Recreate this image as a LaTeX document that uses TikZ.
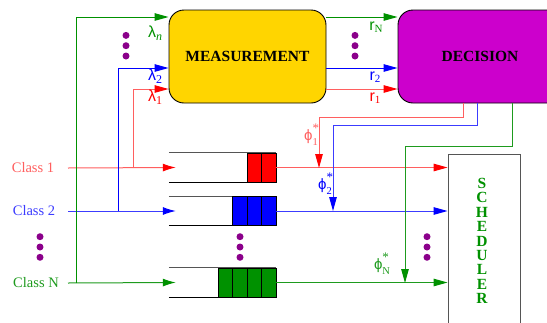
\documentclass[tikz,border=0pt]{standalone}
\usepackage{fontspec}
\setmainfont{Liberation Serif}
\newfontfamily\symfont{Liberation Sans}
\usetikzlibrary{arrows.meta}
\definecolor{cred}{RGB}{255,0,0}
\definecolor{lred}{RGB}{255,95,95}
\definecolor{cblue}{RGB}{0,0,255}
\definecolor{lblue}{RGB}{60,60,255}
\definecolor{cgreen}{RGB}{0,145,0}
\definecolor{lgreen}{RGB}{30,155,30}
\definecolor{cgold}{RGB}{255,213,0}
\definecolor{cmag}{RGB}{204,0,204}
\definecolor{cdot}{RGB}{139,0,139}
\definecolor{edgegray}{RGB}{85,85,85}
\tikzset{
  big/.style={line width=1pt},
  lbl/.style={inner sep=0pt, font=\fontsize{14.5}{16}\selectfont},
  boxtxt/.style={font=\bfseries\fontsize{15.5}{16}\selectfont},
  cell/.style={draw=black, line width=0.9pt, minimum width=14.5pt, minimum height=29pt, inner sep=0pt},
  tipR/.style={-{Triangle[length=14pt,width=7.5pt,color=cred]}},
  tipB/.style={-{Triangle[length=14pt,width=7.5pt,color=cblue]}},
  tipG/.style={-{Triangle[length=14pt,width=7.5pt,color=cgreen]}},
  qtipR/.style={-{Latex[length=13pt,width=8pt,color=cred]}},
  qtipB/.style={-{Latex[length=13pt,width=8pt,color=cblue]}},
  qtipG/.style={-{Latex[length=13pt,width=8pt,color=cgreen]}},
}
\newcommand\dotstack[2]{\fill[cdot] (#1,#2-10.3) circle (3.5) (#1,#2) circle (3.5) (#1,#2+10.3) circle (3.5);}
\newcommand\lam[1]{{\fontsize{16}{16}\selectfont\symfont λ}\raisebox{-2.5pt}{\fontsize{12}{12}\selectfont #1}}
\newcommand\rr[1]{{\fontsize{16}{16}\selectfont\symfont r}\raisebox{-2.5pt}{\fontsize{11}{11}\selectfont #1}}
\newcommand\phis[1]{{\fontsize{15}{15}\selectfont\symfont ϕ}\rlap{\raisebox{8pt}{\fontsize{13}{13}\selectfont *}}\raisebox{-5pt}{\fontsize{10.5}{10.5}\selectfont #1}}
\begin{document}
\begin{tikzpicture}[x=1pt,y=-1pt]
\clip (0,0) rectangle (547,322);
\fill[white] (0,0) rectangle (547,322);

% main boxes
\node[draw=black, line width=0.9pt, fill=cgold, rounded corners=15pt, minimum width=157pt, minimum height=93pt, boxtxt] (meas) at (247.5,56.5) {MEASUREMENT};
\node[draw=black, line width=0.9pt, fill=cmag, rounded corners=15pt, minimum width=164pt, minimum height=93pt, boxtxt] (dec) at (480,56.5) {DECISION};
\node[draw=edgegray, line width=0.9pt, minimum width=72pt, minimum height=190pt, anchor=north, inner sep=0pt] (sched) at (484,154) {};
\node[text=cgreen, align=center, font=\bfseries\fontsize{15.5}{14.4}\selectfont] (schedtxt) at (482,241) {S\\C\\H\\E\\D\\U\\L\\E\\R};

% class labels
\node[lbl, text=lred] (c1) at (33,168) {Class 1};
\node[lbl, text=lblue] (c2) at (34,211) {Class 2};
\node[lbl, text=lgreen] (cN) at (36,283) {Class N};

% queues
\node[minimum width=107pt, minimum height=29pt, inner sep=0pt] (q1) at (222.5,167.5) {};
\node[minimum width=107pt, minimum height=29pt, inner sep=0pt] (q2) at (222.5,211) {};
\node[minimum width=107pt, minimum height=29pt, inner sep=0pt] (qN) at (222.5,282.5) {};
\foreach \q in {q1,q2,qN}{
  \draw[edgegray, line width=0.9pt] (\q.north west) -- (\q.north east);
  \draw[black, line width=0.9pt] (\q.south west) -- (\q.south east);
}
\node[cell, fill=cred] (r1a) at (254.5,167.5) {};
\node[cell, fill=cred] (r1b) at (269,167.5) {};
\node[cell, fill=cblue] (b2a) at (240,211) {};
\node[cell, fill=cblue] (b2b) at (254.5,211) {};
\node[cell, fill=cblue] (b2c) at (269,211) {};
\node[cell, fill=cgreen] (gNa) at (225.5,282.5) {};
\node[cell, fill=cgreen] (gNb) at (240,282.5) {};
\node[cell, fill=cgreen] (gNc) at (254.5,282.5) {};
\node[cell, fill=cgreen] (gNd) at (269,282.5) {};

% junction coordinates
\coordinate (s1) at (68,168);
\coordinate (s2) at (68,211);
\coordinate (sN) at (68,283);
\coordinate (j1) at (133,168);
\coordinate (j2) at (118,211);
\coordinate (jN) at (76,283);
\coordinate (p1) at (319,168);
\coordinate (p2) at (333,211);
\coordinate (pN) at (405,283);

% class lines into queues
\draw[big, draw=lred, qtipR] (s1) -- ([xshift=7pt]q1.west);
\draw[big, draw=lblue, qtipB] (s2) -- ([xshift=7pt]q2.west);
\draw[big, draw=lgreen, qtipG] (sN) -- ([xshift=7pt]qN.west);

% queues to scheduler
\draw[big, draw=lred, tipR] (q1.east) -- (sched.west |- q1.east);
\draw[big, draw=lblue, tipB] (q2.east) -- (sched.west |- q2.east);
\draw[big, draw=lgreen, tipG] (qN.east) -- (sched.west |- qN.east);

% lambda lines
\draw[big, draw=cgreen, tipG] (jN) |- (meas.west |- 0,17);
\draw[big, draw=cblue, tipB] (j2) |- (meas.west |- 0,68);
\draw[big, draw=lred, tipR] (j1) |- (meas.west |- 0,89);

% r lines
\draw[big, draw=cgreen, tipG] (meas.east |- 0,17) -- (dec.west |- 0,17);
\draw[big, draw=cblue, tipB] (meas.east |- 0,68) -- (dec.west |- 0,68);
\draw[big, draw=lred, tipR] (meas.east |- 0,89) -- (dec.west |- 0,89);

% decision outputs
\draw[big, draw=lred, tipR] (dec.south -| 463,0) -- (463,117) -| (p1);
\draw[big, draw=lblue, tipB] (dec.south -| 477,0) -- (477,125) -| (p2);
\draw[big, draw=lgreen, tipG] (dec.south -| 512,0) -- (512,146) -| (pN);

% labels
\node[lbl, text=cgreen] (ln) at (155,33) {\lam{\textit{n}}};
\node[lbl, text=cblue] (l2) at (155,76) {\lam{2}};
\node[lbl, text=cred] (l1) at (155,97) {\lam{1}};
\node[lbl, text=cgreen] (rN) at (376,27) {\rr{N}};
\node[lbl, text=cblue] (r2) at (375,77) {\rr{2}};
\node[lbl, text=cred] (r1) at (375,98) {\rr{1}};
\node[lbl, text=lred] (f1) at (311,135) {\phis{1}};
\node[lbl, text=cblue] (f2) at (325,184) {\phis{2}};
\node[lbl, text=lgreen] (fN) at (382,264) {\phis{N}};

% dots
\dotstack{126}{45.7}
\dotstack{355}{45.7}
\dotstack{40}{247}
\dotstack{240}{247}
\dotstack{427}{247}
\end{tikzpicture}
\end{document}
